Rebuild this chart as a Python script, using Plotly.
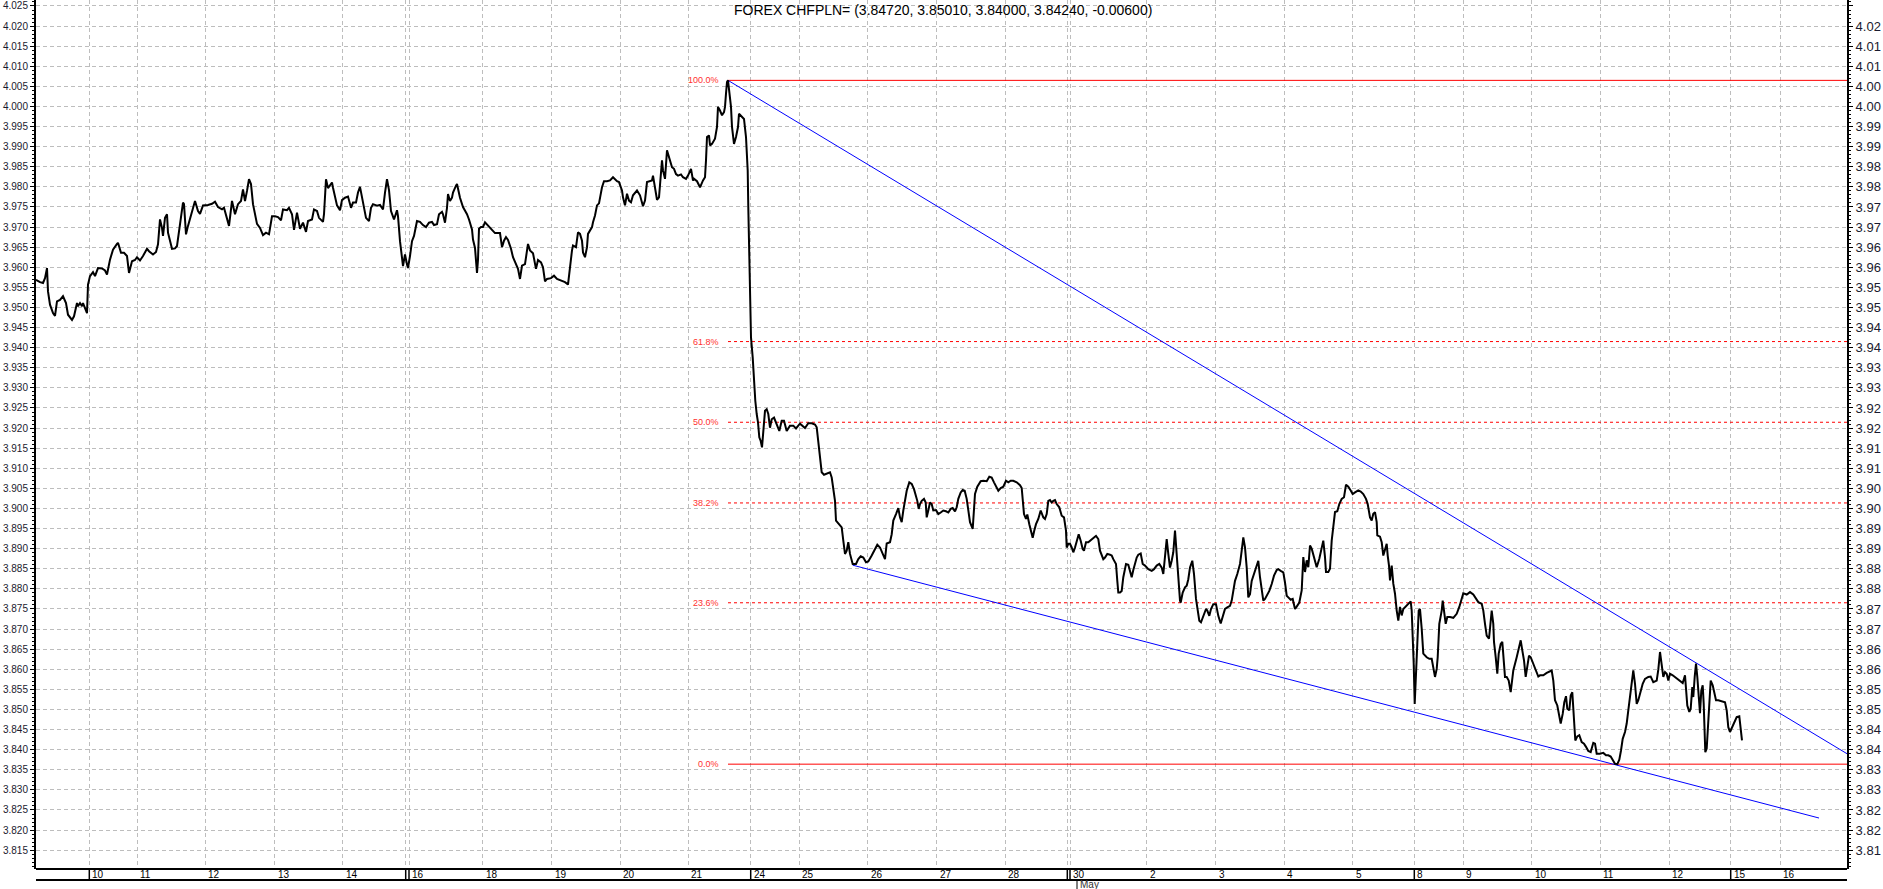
import plotly.graph_objects as go

# ---------------- data ----------------
# time position of each intraday point (slot units along the time axis) and CHF/PLN price
t_seg1 = [0,4,7,9,11,12,14,17,19,21,
          24,27,30,32,36,38,41,42,44,46,
          47,49,51,52,54,57,59,62,66,69,
          71,74,77,81,82,85,88,91,93,96,
          99,101,104,107,111,113,117,120,122,124,
          126,127,129,131,132,136,139,141,144,147,
          148,150,152,156,159,162,164,167,172,176,
          179,182,186,188,191,193,196,199,202,205,
          207,209,211,213,215,217,221,224,227,230,
          233,236,239,242,245,247,251,253,256,258,
          261,264,267,270,272,276,278,281,283,287,
          288,290,292,294,296,297,299,301,304,306,
          309,312,315,317,320,322,324,327,330,333,
          335,337,341,344,347,349,351,353,355,358,
          361,362,364,367,369,371,372,374,376,378,
          381,384,387,390,393,396,398,401,403,406,
          407,409,411,412,414,416,417,420,421,424,
          427,431,433,436,437,439,441,442]
p_seg1 = [3.9569,3.9563,3.9561,3.9573,3.9598,3.9540,3.9507,3.9486,3.9479,3.9515,
          3.9519,3.9528,3.9511,3.9482,3.9469,3.9478,3.9511,3.9503,3.9511,3.9503,
          3.9511,3.9498,3.9486,3.9557,3.9578,3.9588,3.9578,3.9598,3.9597,3.9592,
          3.9582,3.9619,3.9644,3.9658,3.9661,3.9636,3.9636,3.9628,3.9586,3.9615,
          3.9618,3.9625,3.9617,3.9628,3.9646,3.9640,3.9632,3.9638,3.9657,3.9719,
          3.9698,3.9678,3.9723,3.9732,3.9686,3.9646,3.9647,3.9653,3.9711,3.9761,
          3.9757,3.9682,3.9703,3.9736,3.9765,3.9740,3.9733,3.9754,3.9755,3.9758,
          3.9763,3.9750,3.9744,3.9748,3.9723,3.9703,3.9765,3.9732,3.9757,3.9765,
          3.9794,3.9765,3.9790,3.9819,3.9807,3.9757,3.9708,3.9698,3.9680,3.9686,
          3.9682,3.9727,3.9727,3.9725,3.9717,3.9744,3.9742,3.9748,3.9732,3.9693,
          3.9736,3.9696,3.9711,3.9688,3.9715,3.9719,3.9744,3.9740,3.9723,3.9713,
          3.9732,3.9819,3.9797,3.9804,3.9811,3.9798,3.9773,3.9754,3.9742,3.9767,
          3.9773,3.9776,3.9748,3.9761,3.9761,3.9786,3.9800,3.9757,3.9723,3.9715,
          3.9748,3.9757,3.9753,3.9755,3.9744,3.9786,3.9819,3.9792,3.9740,3.9719,
          3.9742,3.9727,3.9665,3.9603,3.9632,3.9607,3.9598,3.9628,3.9665,3.9678,
          3.9715,3.9713,3.9705,3.9700,3.9711,3.9713,3.9705,3.9707,3.9732,3.9738,
          3.9732,3.9711,3.9748,3.9782,3.9765,3.9773,3.9786,3.9803,3.9807,3.9773,
          3.9750,3.9732,3.9719,3.9694,3.9669,3.9648,3.9586,3.9619]

t_seg2 = [443,445,447,449,452,456,459,464,466,468,
          470,472,475,477,480,482,484,486,489,491,
          492,494,497,500,502,505,507,509,511,515,
          518,521,525,529,532,534,536,537,540,542,
          544,546,547,549,551,552,556,557,559,561,
          563,566,568,571,574,577,581,583,586,587,
          589,591,593,595,597,601,604,607,609,611,
          614,616,617,619,621,623,626,627,629,631,
          634,636,638,640,642,645,647,650,652,655,
          657,658,661,662,664,667,669,670,671,673,
          674,676,679,681,682,684,686,688,689,690,
          691,692,693,695,696,698,700,702,703,706,
          708,710,711.7,712.3,713,714,715,716.7,718,719.3,
          720.7,722,723.3,724.7,726,727.3,729,730.7,732.3,734,
          735.7,738,740.7,743.3,745.7,748,750.7,754,757.3,760,
          762.3,764]
p_seg2 = [3.9696,3.9700,3.9700,3.9712,3.9704,3.9691,3.9685,3.9685,3.9650,3.9666,
          3.9675,3.9668,3.9646,3.9625,3.9610,3.9596,3.9571,3.9604,3.9608,3.9637,
          3.9658,3.9642,3.9635,3.9596,3.9618,3.9612,3.9600,3.9565,3.9571,3.9573,
          3.9579,3.9571,3.9567,3.9563,3.9557,3.9608,3.9642,3.9654,3.9650,3.9687,
          3.9683,3.9666,3.9637,3.9625,3.9650,3.9683,3.9700,3.9712,3.9729,3.9754,
          3.9759,3.9799,3.9814,3.9814,3.9816,3.9824,3.9814,3.9812,3.9791,3.9774,
          3.9754,3.9783,3.9766,3.9762,3.9779,3.9791,3.9779,3.9752,3.9766,3.9812,
          3.9814,3.9816,3.9828,3.9795,3.9768,3.9774,3.9866,3.9841,3.9820,3.9891,
          3.9866,3.9849,3.9845,3.9832,3.9828,3.9831,3.9824,3.9820,3.9828,3.9845,
          3.9816,3.9820,3.9814,3.9808,3.9799,3.9816,3.9824,3.9866,3.9924,3.9928,
          3.9903,3.9907,3.9920,3.9949,3.9999,3.9990,3.9978,3.9986,3.9999,4.0032,
          4.0061,4.0065,4.0040,3.9999,3.9949,3.9907,3.9924,3.9949,3.9982,3.9974,
          3.9969,3.9924,3.9841,3.9749,3.9666,3.9534,3.9426,3.9376,3.9318,3.9268,
          3.9235,3.9214,3.9177,3.9168,3.9152,3.9193,3.9243,3.9247,3.9235,3.9201,
          3.9222,3.9226,3.9210,3.9193,3.9218,3.9218,3.9193,3.9206,3.9206,3.9199,
          3.9206,3.9211]

t_seg3 = [769,772.3,775.7,779,780.7,782.3,784,785.7,788,790.7,
          794,795.7,797.3,799,800,802.3,805.7,807.3,809,810.7,
          812.3,814,816.7,820,822.3,824.7,827.3,830,832.3,835.7,
          839,841.3,844,846.7,849,850.7,854,855.7,857.3,860,
          862.3,864,865.7,867.3,869,870.7,873.3,875.7,878,880,
          881.3,882.7,884,885.7,888,889.7,890.7,892.3,894,895.7,
          897.3,900,902.3,904.7,907.3,910,912.3,914.7,916.7,919,
          920.7,922.3,924.7,926.7,928.7,930.7,932.3,934,936.7,938,
          939,941.3,944.7,947.3,950.7,953.3,955.7,958,960,962.3,
          964.7,967.3,970,972.3,974.7,977.3,980.7,984,985.7,986.7,
          988,990,991.3,993.3,994.7,996.7,998.3,1000,1002.3,1004.7,
          1007.3,1009,1010.7,1012.3,1014,1015.7,1017.3,1019,1020.7,1023.3,
          1025.7,1028,1030,1030.7,1032.3,1034,1035.7,1037.3,1039,1040.7,
          1042.7,1044.7,1046.7,1048,1050,1052.3,1055.7,1058,1060,1062.3,
          1064,1065.7,1067.3,1069,1071.3,1074,1075.7,1077.3,1080,1081.3,
          1082.3,1084,1085.7,1087.3,1090,1092.3,1094,1095.7,1097.3,1100.7,
          1102.3,1104.7,1106.7,1109,1112.3,1115.7,1118,1120.7,1123.3,1125.7,
          1127.3,1129,1130.7,1132.3,1134,1135.7,1137.3,1139,1140.7,1142.3,
          1144,1144.7,1146.7,1149,1150.7,1152.3,1154,1156.3,1158,1160,
          1161.3,1163.3,1165,1167.3,1170,1171.3,1173.3,1175,1177.3,1180,
          1182.3,1184.7,1186.7,1189,1191.3,1194,1195.7,1197.3,1199,1201.3,
          1204,1205.7,1207.3,1209,1210.7,1212.3,1214,1215.7,1217.3,1219,
          1220.7,1222.3,1224,1225.7,1227.3,1229,1230.7,1233.3,1235.7,1238,
          1240.7,1242.3,1244.7,1247.3,1249,1250.7,1252.3,1254.7,1256.7,1259,
          1260.7,1263.3]
p_seg3 = [3.9200,3.9212,3.9212,3.9209,3.9202,3.9160,3.9127,3.9090,3.9084,3.9086,
          3.9090,3.9077,3.9044,3.9019,3.8970,3.8963,3.8953,3.8920,3.8887,3.8895,
          3.8916,3.8887,3.8862,3.8862,3.8874,3.8881,3.8878,3.8866,3.8868,3.8883,
          3.8899,3.8910,3.8903,3.8887,3.8874,3.8913,3.8916,3.8936,3.8970,3.8986,
          3.9001,3.8978,3.8966,3.8995,3.9019,3.9044,3.9065,3.9061,3.9048,3.9032,
          3.9019,3.8999,3.9011,3.9019,3.9024,3.9015,3.8978,3.8995,3.9015,3.9011,
          3.8995,3.8996,3.8986,3.8990,3.8995,3.8993,3.8990,3.8999,3.9001,3.8993,
          3.9003,3.9024,3.9040,3.9046,3.9044,3.9024,3.8995,3.8966,3.8949,3.9007,
          3.9036,3.9054,3.9068,3.9069,3.9068,3.9079,3.9077,3.9065,3.9053,3.9044,
          3.9051,3.9054,3.9069,3.9065,3.9069,3.9069,3.9065,3.9058,3.9051,3.9011,
          3.8986,3.8974,3.8985,3.8961,3.8949,3.8927,3.8945,3.8961,3.8974,3.8995,
          3.8978,3.8974,3.8986,3.9019,3.9021,3.9015,3.9019,3.9021,3.9011,3.9003,
          3.8982,3.8978,3.8945,3.8903,3.8912,3.8912,3.8903,3.8891,3.8903,3.8920,
          3.8936,3.8920,3.8899,3.8895,3.8916,3.8916,3.8922,3.8928,3.8932,3.8924,
          3.8895,3.8883,3.8874,3.8878,3.8887,3.8885,3.8883,3.8874,3.8862,3.8820,
          3.8791,3.8791,3.8795,3.8829,3.8862,3.8860,3.8845,3.8829,3.8847,3.8878,
          3.8885,3.8888,3.8862,3.8858,3.8849,3.8845,3.8849,3.8858,3.8862,3.8853,
          3.8837,3.8878,3.8924,3.8887,3.8853,3.8870,3.8891,3.8945,3.8878,3.8833,
          3.8771,3.8766,3.8791,3.8804,3.8808,3.8824,3.8853,3.8870,3.8837,3.8775,
          3.8754,3.8721,3.8717,3.8733,3.8750,3.8746,3.8733,3.8750,3.8762,3.8762,
          3.8733,3.8714,3.8729,3.8750,3.8754,3.8758,3.8771,3.8800,3.8820,3.8837,
          3.8862,3.8895,3.8928,3.8903,3.8853,3.8779,3.8787,3.8820,3.8833,3.8845,
          3.8862,3.8870,3.8829,3.8791,3.8771,3.8775,3.8783,3.8795,3.8812,3.8833,
          3.8847,3.8849,3.8845,3.8841,3.8816,3.8783,3.8779,3.8773,3.8775,3.8750,
          3.8756,3.8766]

t_seg4 = [1265.7,1267.3,1269,1270.7,1272.3,1274,1275.7,1278,1280.7,1283.3,
          1285.7,1287.3,1289,1290,1292.3,1294,1295.7,1297.3,1299,1301.3,
          1303.3,1305.7,1308,1310,1312.3,1314.7,1316.7,1319,1322.3,1324.7,
          1327.3,1330,1331.7,1334,1335.7,1337.3,1339,1340.7,1341.3,1344,
          1345.7,1347.3,1349,1350.7,1351.7,1353,1354,1355.7,1357.3,1359,
          1360.7,1362.3,1364,1365.7,1367.3,1369,1371.3,1373.3,1374.7,1375.7,
          1376.7,1377.7,1378.7,1380,1381.3,1382.7,1384,1385.7,1387.3,1390.7,
          1393.3,1395.7,1397.3,1399,1400.7,1401.7,1403.3,1405.7,1406.7,1408,
          1409.7,1411.3,1414,1417.3,1420.7,1423.3,1425.7,1427.3,1430.7,1434,
          1437.3,1440,1442.3,1445.7,1447.3,1449,1450.7,1453,1454.7,1455.7,
          1457.3,1458,1459.7,1461.3,1462.7,1464.7,1466.3,1467.3,1469,1470.7,
          1472.7,1474.7,1475.7,1477.3,1480.7,1483.3,1484.7,1486.3,1488,1489.7,
          1491.3,1493,1494.7,1497.3,1500,1502.3,1504,1507.3,1510.7,1513.3,
          1515.7,1517.3,1519,1521.3,1523.3,1524.7,1526.7,1528.3,1530,1531.3,
          1533.3,1534.7,1536.3,1537.3,1538.3,1539.3,1541.3,1543.3,1545.7,1548,
          1550,1552.3,1554.7,1557.3,1559,1560.7,1564,1567.3,1570,1572.3,
          1574.7,1576.7,1579,1581.3,1583.3,1585,1586.7,1589,1590.7,1592.3,
          1594,1595.7,1597.3,1599,1600.7,1602.3,1604,1606.7,1609,1612.3,
          1614.7,1617.3,1620.7,1622.3,1624,1625.7,1627.3,1629,1630.7,1632.3,
          1634,1636.7,1639,1641.3,1644,1646.7,1649,1650,1651.3,1653.3,
          1654.7,1656.3,1657.3,1658.7,1660,1661.3,1662.7,1664,1665.3,1666.7,
          1667.7,1668.3,1669.3,1670.7,1672.3,1673.3,1674.7,1676.7,1678,1680,
          1682.3,1685.7,1689,1690.7,1692.3,1694,1696.7,1699,1700.7,1703.3,
          1704.7,1706]
p_seg4 = [3.8796,3.8879,3.8842,3.8871,3.8854,3.8908,3.8900,3.8879,3.8854,3.8875,
          3.8900,3.8920,3.8879,3.8842,3.8842,3.8850,3.8920,3.8962,3.8991,3.8993,
          3.9011,3.9024,3.9028,3.9059,3.9054,3.9045,3.9036,3.9040,3.9045,3.9042,
          3.9036,3.9024,3.9011,3.8978,3.8970,3.8987,3.8991,3.8966,3.8933,3.8930,
          3.8916,3.8883,3.8895,3.8912,3.8883,3.8858,3.8821,3.8858,3.8813,3.8788,
          3.8746,3.8721,3.8755,3.8734,3.8750,3.8755,3.8759,3.8765,3.8769,3.8746,
          3.8697,3.8614,3.8514,3.8572,3.8663,3.8746,3.8750,3.8701,3.8639,3.8630,
          3.8626,3.8626,3.8605,3.8581,3.8601,3.8630,3.8713,3.8746,3.8771,3.8746,
          3.8713,3.8730,3.8730,3.8728,3.8738,3.8755,3.8779,3.8789,3.8786,3.8792,
          3.8786,3.8775,3.8767,3.8763,3.8746,3.8713,3.8684,3.8676,3.8721,3.8746,
          3.8713,3.8668,3.8630,3.8589,3.8639,3.8663,3.8668,3.8630,3.8581,3.8581,
          3.8572,3.8543,3.8564,3.8597,3.8630,3.8663,3.8672,3.8647,3.8622,3.8581,
          3.8605,3.8634,3.8630,3.8614,3.8597,3.8582,3.8585,3.8585,3.8591,3.8595,
          3.8597,3.8572,3.8523,3.8510,3.8481,3.8465,3.8489,3.8518,3.8533,3.8502,
          3.8498,3.8535,3.8543,3.8506,3.8465,3.8423,3.8433,3.8436,3.8419,3.8415,
          3.8407,3.8397,3.8394,3.8417,3.8415,3.8390,3.8390,3.8392,3.8386,3.8386,
          3.8383,3.8375,3.8365,3.8364,3.8375,3.8398,3.8427,3.8444,3.8465,3.8498,
          3.8531,3.8572,3.8597,3.8564,3.8514,3.8523,3.8539,3.8564,3.8576,3.8581,
          3.8582,3.8568,3.8572,3.8599,3.8643,3.8605,3.8581,3.8593,3.8589,3.8572,
          3.8589,3.8585,3.8581,3.8576,3.8572,3.8566,3.8585,3.8556,3.8510,3.8494,
          3.8502,3.8556,3.8531,3.8581,3.8614,3.8581,3.8518,3.8491,3.8547,3.8560,
          3.8514,3.8456,3.8394,3.8403,3.8465,3.8494,3.8572,3.8560,3.8547,3.8523,
          3.8523,3.8521,3.8518,3.8498,3.8456,3.8444,3.8458,3.8473,3.8481,3.8483,
          3.8456,3.8423]

# day labels on the time axis and their positions (slot units)
day_labels = ["10","11","12","13","14","16","18","19","20","21","24","25","26","27","28",
              "30","2","3","4","5","8","9","10","11","12","15","16"]
day_pos = [53.3,101.3,169.3,238.5,306.8,373,446.7,515.7,584,652.3,714.7,763.3,831.7,900.7,969,
           1034,1110.7,1179.7,1248,1316.7,1378.3,1427.3,1495.7,1564,1633,1694.7,1744]
week_breaks = [53.3, 369.7, 373, 714.7, 1031.3, 1034, 1378.3, 1694.7]
month_break = 1041.0
month_label = "May"

# Fibonacci retracement swing and trendline end points
swing_high_t, swing_high = 692, 4.0065
swing_low = 3.8364
fib_pcts = [1.0, 0.618, 0.5, 0.382, 0.236, 0.0]
fib_text = ["100.0%", "61.8%", "50.0%", "38.2%", "23.6%", "0.0%"]
upper_trend_t = [692, 1811]
upper_trend_p = [4.0065, 3.8390]
lower_trend_t = [816.7, 1783]
lower_trend_p = [3.8859, 3.8230]

title_text = "FOREX CHFPLN= (3.84720, 3.85010, 3.84000, 3.84240, -0.00600)"

# ---------------- figure ----------------
T_MAX = 1811
Y_MIN, Y_MAX = 3.81032, 4.02649
FONT = "Liberation Sans, Arial, sans-serif"
GRID = "#bdbdbd"
W, H = 1883, 889
ML, MR, MT, MB = 36, 36, 0, 20
PLOT_H = H - MT - MB

t_all = t_seg1 + t_seg2 + t_seg3 + t_seg4
p_all = p_seg1 + p_seg2 + p_seg3 + p_seg4
assert len(t_all) == len(p_all), (len(t_all), len(p_all))

fig = go.Figure()

# fib lines
for pct, txt in zip(fib_pcts, fib_text):
    lvl = swing_low + pct * (swing_high - swing_low)
    solid = pct in (0.0, 1.0)
    fig.add_trace(go.Scatter(
        x=[swing_high_t, T_MAX], y=[lvl, lvl], mode="lines",
        line=dict(color="#ff0000", width=1, dash=None if solid else "3px,3px"),
        hoverinfo="skip", showlegend=False))
    fig.add_annotation(x=swing_high_t, y=lvl, xref="x", yref="y", text=txt,
                       showarrow=False, xanchor="right", yanchor="middle", xshift=-7,
                       font=dict(family=FONT, size=9, color="#ff3030"))

# trendlines
fig.add_trace(go.Scatter(x=upper_trend_t, y=upper_trend_p, mode="lines",
                         line=dict(color="#0000ff", width=1), hoverinfo="skip", showlegend=False))
fig.add_trace(go.Scatter(x=lower_trend_t, y=lower_trend_p, mode="lines",
                         line=dict(color="#0000ff", width=1), hoverinfo="skip", showlegend=False))

# price
fig.add_trace(go.Scatter(x=t_all, y=p_all, mode="lines",
                         line=dict(color="#000000", width=2), showlegend=False))

# invisible trace to activate right axis
fig.add_trace(go.Scatter(x=[0], y=[4.0], yaxis="y2", mode="markers",
                         marker=dict(opacity=0), hoverinfo="skip", showlegend=False))

# y ticks
major = [round(3.815 + 0.005 * i, 3) for i in range(43)]
minor = [round(3.811 + 0.001 * i, 3) for i in range(216)]
minor = [v for v in minor if round(v * 1000) % 5 != 0]
right_text = [("" if v >= 4.0249 else "%.2f" % ((round(v * 1000) // 10) / 100)) for v in major]

fig.update_layout(
    width=W, height=H,
    margin=dict(l=ML, r=MR, t=MT, b=MB, autoexpand=False),
    paper_bgcolor="white", plot_bgcolor="white",
    template="none",
    font=dict(family=FONT, color="black"),
    xaxis=dict(range=[0, T_MAX], tickmode="array",
               tickvals=sorted(set(day_pos + week_breaks)),
               showticklabels=False, ticks="", showgrid=True, gridcolor=GRID,
               griddash="4px,3px", gridwidth=1, zeroline=False, showline=False,
               automargin=False, fixedrange=True),
    yaxis=dict(range=[Y_MIN, Y_MAX], tickmode="array", tickvals=major,
               ticktext=["%.3f" % v for v in major], side="left",
               ticks="outside", ticklen=4, tickwidth=1, tickcolor="black",
               tickfont=dict(family=FONT, size=10, color="#1a1a2e"),
               minor=dict(tickmode="array", tickvals=minor, ticks="outside",
                          ticklen=2, tickcolor="black", showgrid=False),
               showgrid=True, gridcolor=GRID, griddash="4px,3px", gridwidth=1,
               zeroline=False, showline=True, linecolor="black", linewidth=2,
               automargin=False, fixedrange=True),
    yaxis2=dict(range=[Y_MIN, Y_MAX], overlaying="y", side="right",
                tickmode="array", tickvals=major, ticktext=right_text,
                ticks="outside", ticklen=4, tickwidth=1, tickcolor="black",
                tickfont=dict(family=FONT, size=13, color="#1a1a2e"),
                minor=dict(tickmode="array", tickvals=minor, ticks="outside",
                           ticklen=2, tickcolor="black", showgrid=False),
                showgrid=False, zeroline=False, showline=True, linecolor="black",
                linewidth=2, automargin=False, fixedrange=True),
)

# title
fig.add_annotation(x=(943 - ML) / (W - ML - MR), y=(PLOT_H - 10) / PLOT_H,
                   xref="paper", yref="paper", text=title_text, showarrow=False,
                   xanchor="center", yanchor="middle",
                   font=dict(family=FONT, size=14, color="#000000"))

# date axis band
band = -11 / PLOT_H
shapes = [
    dict(type="line", xref="paper", yref="paper", x0=0, x1=1, y0=0, y1=0,
         line=dict(color="black", width=2)),
    dict(type="line", xref="paper", yref="paper", x0=0, x1=1, y0=band, y1=band,
         line=dict(color="black", width=2)),
]
for wb in week_breaks:
    xp = wb / T_MAX
    shapes.append(dict(type="line", xref="paper", yref="paper", x0=xp, x1=xp,
                       y0=0, y1=band, line=dict(color="black", width=1.5)))
xp = month_break / T_MAX
shapes.append(dict(type="line", xref="paper", yref="paper", x0=xp, x1=xp,
                   y0=band, y1=-20 / PLOT_H, line=dict(color="black", width=1)))
fig.update_layout(shapes=shapes)

for lab, pos in zip(day_labels, day_pos):
    fig.add_annotation(x=pos / T_MAX, y=-6 / PLOT_H, xref="paper", yref="paper",
                       text=lab, showarrow=False, xanchor="left", yanchor="middle",
                       xshift=1, font=dict(family=FONT, size=10, color="black"))
fig.add_annotation(x=month_break / T_MAX, y=-15.5 / PLOT_H, xref="paper", yref="paper",
                   text=month_label, showarrow=False, xanchor="left", yanchor="middle",
                   xshift=1, font=dict(family=FONT, size=10, color="#333333"))

fig.write_html("out.html",
               config={"displayModeBar": False},
               post_script="document.body.style.margin='0';document.body.style.overflow='hidden';")
